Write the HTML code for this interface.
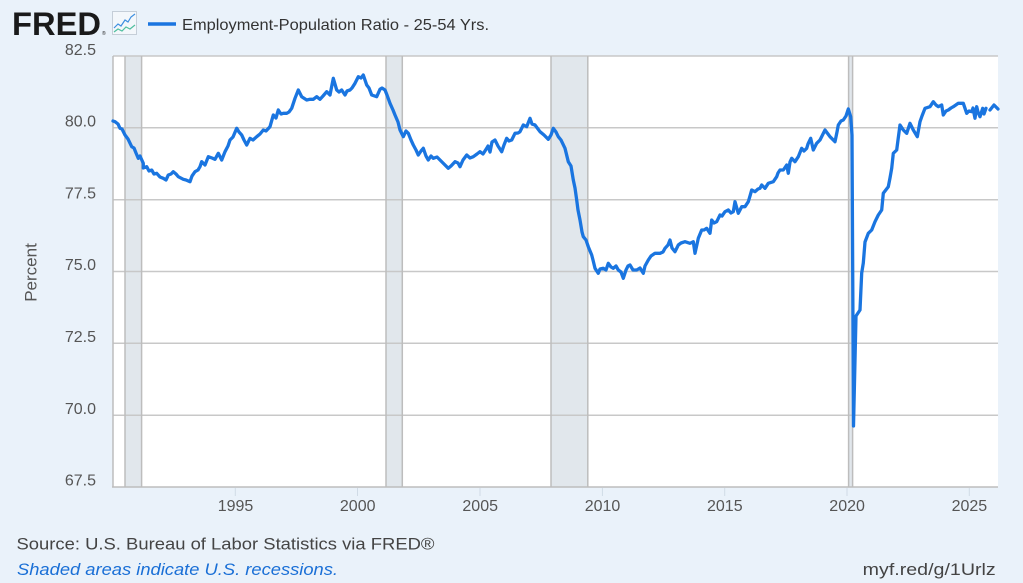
<!DOCTYPE html>
<html><head><meta charset="utf-8"><style>
html,body{margin:0;padding:0;background:#eaf2fa;}
svg{display:block;}
text{font-family:"Liberation Sans",sans-serif;}
</style></head><body>
<svg width="1023" height="583" viewBox="0 0 1023 583" xmlns="http://www.w3.org/2000/svg">
<rect x="0" y="0" width="1023" height="583" fill="#eaf2fa"/>
<!-- header -->
<text x="12" y="35" font-size="32" font-weight="bold" fill="#1a1a1a" textLength="89" lengthAdjust="spacingAndGlyphs">FRED</text>
<text x="102" y="35" font-size="5" fill="#1a1a1a">®</text>
<rect x="112.5" y="11.5" width="24" height="23" fill="#f3f7fb" stroke="#c5ced8" stroke-width="1"/>
<polyline points="114,28 118,24 121,26 125,20 128,22 131,17 135,14" fill="none" stroke="#3d8fe0" stroke-width="1.2"/>
<polyline points="114,32 118,29 122,31 126,27 130,29 135,25" fill="none" stroke="#4fbf9f" stroke-width="1.2"/>
<line x1="148" y1="24" x2="176" y2="24" stroke="#1a75e0" stroke-width="3.5"/>
<text x="182" y="30" font-size="16" fill="#333" textLength="307" lengthAdjust="spacingAndGlyphs">Employment-Population Ratio - 25-54 Yrs.</text>
<!-- plot -->
<rect x="113" y="56" width="885" height="431" fill="#ffffff"/>
<g fill="#e1e7ec" stroke="none">
<rect x="125" y="56" width="16.6" height="431"/>
<rect x="386" y="56" width="16.3" height="431"/>
<rect x="551" y="56" width="36.8" height="431"/>
<rect x="848.6" y="56" width="4" height="431"/>
</g>
<g stroke="#c8c8c8" stroke-width="1.5">
<line x1="113" y1="56" x2="998" y2="56"/>
<line x1="113" y1="127.8" x2="998" y2="127.8"/>
<line x1="113" y1="199.7" x2="998" y2="199.7"/>
<line x1="113" y1="271.5" x2="998" y2="271.5"/>
<line x1="113" y1="343.3" x2="998" y2="343.3"/>
<line x1="113" y1="415.2" x2="998" y2="415.2"/>
</g>
<g stroke="#bdbdbd" stroke-width="1.5">
<line x1="125" y1="56" x2="125" y2="487"/>
<line x1="141.6" y1="56" x2="141.6" y2="487"/>
<line x1="386" y1="56" x2="386" y2="487"/>
<line x1="402.3" y1="56" x2="402.3" y2="487"/>
<line x1="551" y1="56" x2="551" y2="487"/>
<line x1="587.8" y1="56" x2="587.8" y2="487"/>
<line x1="848.6" y1="56" x2="848.6" y2="487"/>
<line x1="852.6" y1="56" x2="852.6" y2="487"/>
<line x1="113" y1="56" x2="113" y2="487"/>
<line x1="112" y1="487" x2="998" y2="487"/>
</g>
<g stroke="#d0dbe6" stroke-width="1">
<line x1="235.3" y1="488" x2="235.3" y2="496"/>
<line x1="357.5" y1="488" x2="357.5" y2="496"/>
<line x1="480" y1="488" x2="480" y2="496"/>
<line x1="602.4" y1="488" x2="602.4" y2="496"/>
<line x1="724.7" y1="488" x2="724.7" y2="496"/>
<line x1="847" y1="488" x2="847" y2="496"/>
<line x1="969.3" y1="488" x2="969.3" y2="496"/>
</g>
<!-- series -->
<path fill="none" stroke="#1a75e0" stroke-width="3.3" stroke-linejoin="round" stroke-linecap="round" d="M113,121 L115,121.7 L118,124 L120,128.3 L122,129 L125,135 L128,139 L131.7,146.7 L134,148 L136,153 L138.3,158.3 L140,156 L143.3,163.3 L143.3,168 L146.7,166.7 L149,171 L151.7,170 L154,174 L156.7,173.3 L160,177 L163.3,178.3 L166,180 L168.3,175 L171,174 L173.3,171.7 L176,174 L178.3,176.7 L183.3,179.3 L186,180 L190,181.7 L192,176 L195,171.7 L198,170 L200,166.7 L201.7,161.7 L205,165 L208.3,156.7 L212,158 L215,159.3 L218.3,153.3 L221.7,160 L225,151.7 L228,146 L230,140 L233,137 L236.7,128.3 L239,132 L241.7,135 L244,140 L246.7,145 L250,138.3 L253,140 L256.7,136.7 L260,134 L263.3,130 L266,131 L270,126.7 L273.3,115 L276,118 L278.3,110 L281,114 L283.3,113.3 L286.7,113.3 L289,112 L291.7,108.3 L295,98.3 L298.3,90 L301.7,96.7 L306.7,100 L310,99.3 L313.3,99.3 L316.7,96.7 L320,99.3 L323,96 L326.7,91.7 L330,95 L333.3,78.3 L336.7,90 L339,92 L341.7,90 L345,95 L347,91 L350,90 L352,88 L355,83.3 L358.3,76.7 L361,78 L363.3,75 L365,80 L366.7,85 L369,88 L371.7,95 L376.7,96.7 L380,89.3 L382,88 L385,90 L387,95 L390,103.3 L393,110 L395,115 L398,122 L400,130 L403.3,136.7 L406,131 L408.3,133.3 L411,140 L413.3,145 L416,150 L418.3,155 L421,151 L423.3,148.3 L426,156 L428.3,160 L431,156 L433.3,158.3 L437,157 L440,160 L444,164 L448.3,168.3 L451,166 L455,161.7 L458,163 L460,166.7 L463,160 L466.7,155 L470,158 L473.3,156.7 L477,154 L480,151.7 L483,154 L486.7,148.3 L488,146 L490,152 L492,142 L495,140 L498,146 L501.7,151.7 L504,145 L506.7,138.3 L509,141 L511.7,140 L515,133.3 L518,133 L520,131.7 L523.3,125 L526.7,126.7 L530,118.3 L532,124 L535,125 L538,129 L540,131.7 L544,135 L548.3,139.3 L551,135 L553.3,128.3 L556,132 L558.3,136.7 L561,140 L565,148.3 L568.3,161.7 L571,166 L573.3,180 L575,188 L576.7,200 L578,210 L580,220 L582,232 L583.3,236.7 L586,240 L588.3,246.7 L591.7,255 L593,260 L595,268.3 L598.3,273.3 L600,269 L603.3,268.3 L606,270 L608.3,263.3 L611,267 L613.3,268.3 L616,266 L618.3,270 L621,272 L623.3,278.3 L626,270 L628,266 L630,265 L633,270 L636.7,270 L640,268 L643.3,273.3 L645,266 L648.3,260 L651,256 L655,253.3 L660,253.3 L663,252 L665,248.3 L668,245 L670,240 L672,248 L675,251.7 L678.3,245 L681,243 L685,241.7 L690,243.3 L693.3,241.7 L695,253.3 L698.3,238.3 L701.7,230 L704,230 L706.7,228.3 L710,233.3 L711.7,220 L714,223 L716.7,221.7 L720,215 L722,216 L725,211.7 L728.3,210 L731,213 L733.3,211.7 L735,201.7 L738.3,213.3 L741.7,206.7 L745,206.7 L748.3,201.7 L750,196 L751.7,190 L755,191.7 L758,189 L760,188.3 L761.7,185 L765,188.3 L768.3,183.3 L773.3,181.7 L776.7,176.7 L778,173 L780,170 L783.3,170 L786.7,165 L788.3,173.3 L790,162 L791.7,158.3 L795,161.7 L798.3,156.7 L801.7,148.3 L804,151 L806.7,148.3 L808,144 L810.7,138.3 L813.3,150 L816.7,143.3 L820,140 L822,136 L825,130 L828,134 L830,136.7 L835,141.7 L837,132 L838.3,125 L841,121 L843.3,120 L846,116 L848.3,109 L850.7,116.7 L852,135 L853.5,426 L856,316 L860,310 L861.7,273 L863.3,263 L865,242 L868.3,233.3 L871.7,230 L875,221.7 L878.3,215 L881.7,210 L883.3,193.3 L888.3,186.7 L890,178 L891.7,168.3 L893.3,153.3 L896.7,150 L898,140 L900,125 L903.3,130 L906.7,133.3 L910,123.3 L913.3,130 L917.3,136.7 L920,121.7 L922,116 L925,108.3 L930,106.7 L933.3,101.7 L936,105 L938.3,106.7 L941.7,105 L943.3,115 L946,111 L948.3,110 L951,108 L953.3,106.7 L958.3,103.3 L963.3,103.3 L966.7,113.3 L969,111 L971.7,111.7 L973,108 L975,118.3 L976.7,106.7 L978,112 L980,116.7 L982.7,108.3 L984,114 L986,108.3 M990,110 L994,105 L998,109"/>
<!-- y labels -->
<g font-size="16" fill="#555" text-anchor="end">
<text x="96" y="55">82.5</text>
<text x="96" y="126.5">80.0</text>
<text x="96" y="198.3">77.5</text>
<text x="96" y="270">75.0</text>
<text x="96" y="342">72.5</text>
<text x="96" y="413.8">70.0</text>
<text x="96" y="485.5">67.5</text>
</g>
<text transform="translate(36.5,272.5) rotate(-90)" font-size="17" fill="#555" text-anchor="middle">Percent</text>
<!-- x labels -->
<g font-size="16" fill="#555" text-anchor="middle">
<text x="235.5" y="511">1995</text>
<text x="357.7" y="511">2000</text>
<text x="480.2" y="511">2005</text>
<text x="602.5" y="511">2010</text>
<text x="724.8" y="511">2015</text>
<text x="847.1" y="511">2020</text>
<text x="969.4" y="511">2025</text>
</g>
<!-- footer -->
<text x="16.5" y="549.3" font-size="17" fill="#444" textLength="418" lengthAdjust="spacingAndGlyphs">Source: U.S. Bureau of Labor Statistics via FRED®</text>
<text x="17" y="575" font-size="17" font-style="italic" fill="#1a6fd6" textLength="321" lengthAdjust="spacingAndGlyphs">Shaded areas indicate U.S. recessions.</text>
<text x="862.7" y="575" font-size="17" fill="#444" textLength="133" lengthAdjust="spacingAndGlyphs">myf.red/g/1Urlz</text>
</svg>
</body></html>
